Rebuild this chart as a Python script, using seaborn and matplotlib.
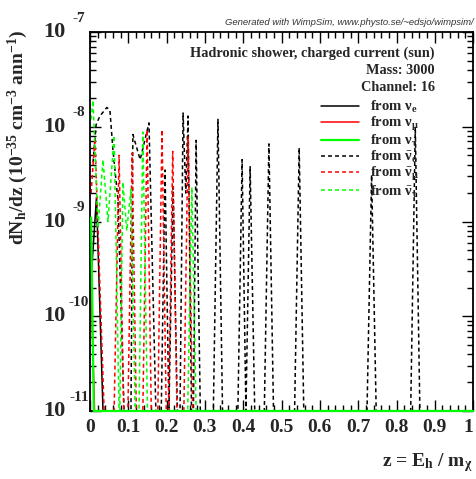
import numpy as np
import pandas as pd
import matplotlib
matplotlib.use("Agg")
import matplotlib.pyplot as plt
from matplotlib.ticker import MultipleLocator, LogLocator, NullFormatter, FixedLocator
import seaborn as sns

# ---------------- data ----------------
z_nu_e = [0.003, 0.017, 0.034, 1.0]
v_nu_e = [2.5e-10, 1.8e-9, 0, 0]

z_nu_mu = [0.003, 0.012, 1.0]
v_nu_mu = [2e-10, 0, 0]

z_nu_tau = [0.003, 0.010, 1.0]
v_nu_tau = [1.1e-9, 0, 0]

z_nubar_e = [0.008, 0.016, 0.026, 0.044, 0.052, 0.060, 0.073, 0.089,
             0.107, 0.112, 0.131, 0.154, 0.172,
             0.186, 0.196, 0.206, 0.217, 0.228,
             0.235, 0.243, 0.250, 0.256, 0.265, 0.270, 0.277, 0.288,
             0.322, 0.334, 0.346,
             0.386, 0.397, 0.407, 0.418, 0.430,
             0.455, 0.467, 0.479,
             0.534, 0.546, 0.558,
             0.723, 0.735, 0.747,
             0.837, 0.849, 0.861, 1.0]
v_nubar_e = [4.2e-9, 1.05e-8, 1.3e-8, 1.6e-8, 1.5e-8, 5.7e-9, 1.7e-9, 0,
             0, 8.3e-9, 4.5e-9, 1.1e-8, 0,
             0, 3.5e-9, 0, 2.3e-9, 0,
             0, 1.4e-8, 2e-9, 1.3e-8, 0, 0, 7.2e-9, 0,
             0, 1.2e-8, 0,
             0, 4.5e-9, 0, 3.8e-9, 0,
             0, 6.6e-9, 0,
             0, 6e-9, 0,
             0, 3.1e-9, 0,
             0, 1e-8, 0, 0]

z_nubar_mu = [0.003, 0.013, 0.037,
              0.063, 0.076, 0.088,
              0.099, 0.110, 0.121,
              0.138, 0.149, 0.160,
              0.177, 0.188, 0.199,
              0.205, 0.216, 0.227,
              0.245, 0.256, 0.268, 1.0]
v_nubar_mu = [2e-9, 7.6e-9, 0,
              0, 5e-9, 0,
              0, 5.3e-9, 0,
              0, 9.3e-9, 0,
              0, 9.3e-9, 0,
              0, 5.5e-9, 0,
              0, 7.8e-9, 0, 0]

z_nubar_tau = [0.003, 0.008, 0.021, 0.034, 0.047, 0.063, 0.076,
               0.078, 0.086, 0.096, 0.107, 0.118,
               0.128, 0.138, 0.150,
               0.255, 0.266, 0.277, 1.0]
v_nubar_tau = [1.2e-8, 1.9e-8, 8.5e-10, 4.5e-9, 1e-9, 8.1e-9, 0,
               0, 2.6e-9, 8e-10, 2.2e-9, 0,
               0, 8.8e-9, 0,
               0, 2.3e-9, 0, 0]

labels = [r"from $\mathrm{\nu}_{e}$", r"from $\mathrm{\nu}_{\mu}$", r"from $\mathrm{\nu}_{\tau}$",
          r"from $\bar{\mathrm{\nu}}_{e}$", r"from $\bar{\mathrm{\nu}}_{\mu}$", r"from $\bar{\mathrm{\nu}}_{\tau}$"]
x_ticks = [0, 0.1, 0.2, 0.3, 0.4, 0.5, 0.6, 0.7, 0.8, 0.9, 1]
x_tick_labels = ["0", "0.1", "0.2", "0.3", "0.4", "0.5", "0.6", "0.7", "0.8", "0.9", "1"]
y_exponents = [-7, -8, -9, -10, -11]

# ---------------- style ----------------
sns.set_style("ticks")
plt.rcParams["font.family"] = ["Liberation Serif", "DejaVu Serif"]
plt.rcParams["font.weight"] = "bold"
plt.rcParams["mathtext.fontset"] = "custom"
plt.rcParams["mathtext.rm"] = "Liberation Serif:bold"
plt.rcParams["mathtext.it"] = "Liberation Serif:bold"
plt.rcParams["mathtext.bf"] = "Liberation Serif:bold"
plt.rcParams["mathtext.sf"] = "Liberation Serif:bold"
plt.rcParams["mathtext.default"] = "rm"

fig = plt.figure(figsize=(4.76, 4.79), dpi=100)
ax = fig.add_axes([0.189, 0.142, 0.805, 0.791])

ymin, ymax = 1e-11, 1e-7
GREEN = "#00ff00"
RED = "#ff0000"
dash = (0, (2.6, 2.0))
series = [
    (z_nu_e, v_nu_e, "black", "-"),
    (z_nu_mu, v_nu_mu, RED, "-"),
    (z_nu_tau, v_nu_tau, GREEN, "-"),
    (z_nubar_e, v_nubar_e, "black", dash),
    (z_nubar_mu, v_nubar_mu, RED, dash),
    (z_nubar_tau, v_nubar_tau, GREEN, dash),
]
handles = []
for i, (zz, vv, col, ls) in enumerate(series):
    df = pd.DataFrame({"z": zz, "v": np.maximum(np.array(vv, dtype=float), ymin)})
    sns.lineplot(data=df, x="z", y="v", color=col, linestyle=ls, lw=1.1,
                 estimator=None, sort=False, ax=ax, legend=False)
    handles.append(ax.get_lines()[-1])

# green solid on top along the floor
handles[2].set_zorder(4)
handles[2].set_clip_on(False)
handles[2].set_linewidth(1.6)

ax.set_yscale("log")
ax.set_xlim(0, 1)
ax.set_ylim(ymin, ymax)
ax.set_xlabel("")
ax.set_ylabel("")

for s in ax.spines.values():
    s.set_linewidth(1.3)
    s.set_color("black")

ax.xaxis.set_major_locator(FixedLocator(x_ticks))
ax.xaxis.set_minor_locator(MultipleLocator(0.02))
ax.set_xticklabels(x_tick_labels, fontsize=14, fontweight="bold")
ax.get_xticklabels()[-1].set_horizontalalignment("right")
ax.yaxis.set_major_locator(LogLocator(base=10, numticks=10))
ax.yaxis.set_minor_locator(LogLocator(base=10, subs=np.arange(2, 10), numticks=50))
ax.yaxis.set_major_formatter(NullFormatter())
ax.yaxis.set_minor_formatter(NullFormatter())
ax.tick_params(which="both", direction="in", top=True, right=True, width=1.0, color="black")
ax.tick_params(which="major", length=8)
ax.tick_params(which="minor", length=4)
ax.tick_params(axis="x", which="major", pad=6)

# ROOT-style log labels: big "10" and raised exponent
trans = matplotlib.transforms.blended_transform_factory(ax.transAxes, ax.transData)
for e in y_exponents:
    ax.text(-0.065, 10.0 ** e, "10", transform=trans, ha="right", va="center",
            fontsize=16, fontweight="bold")
    ax.text(-0.029, 10.0 ** e * 1.40, str(e), transform=trans, ha="center", va="center",
            fontsize=11, fontweight="bold")

# axis titles
ax.text(-0.188, 1.005, r"dN$_{h}$/dz (10$^{-35}$ cm$^{-3}$ ann$^{-1}$)", transform=ax.transAxes,
        rotation=90, ha="center", va="top", fontsize=14, fontweight="bold")
fig.text(0.994, 0.035, r"z = E$_{h}$ / m$_{\chi}$", ha="right", va="center",
         fontsize=14, fontweight="bold")

# header text
fig.text(0.996, 0.944, "Generated with WimpSim, www.physto.se/~edsjo/wimpsim/",
         ha="right", va="bottom", fontsize=6.8, style="italic", fontweight="normal",
         family=["Liberation Sans", "DejaVu Sans"], color="#333333")
ax.text(0.90, 0.943, "Hadronic shower, charged current (sun)", transform=ax.transAxes,
        ha="right", va="center", fontsize=10.3, fontweight="bold")
ax.text(0.90, 0.898, "Mass: 3000", transform=ax.transAxes,
        ha="right", va="center", fontsize=10.3, fontweight="bold")
ax.text(0.90, 0.853, "Channel: 16", transform=ax.transAxes,
        ha="right", va="center", fontsize=10.3, fontweight="bold")

leg = ax.legend(handles, labels, loc="upper left", bbox_to_anchor=(0.603, 0.823),
                frameon=False, fontsize=10.6, handlelength=2.55, handletextpad=0.75,
                labelspacing=0.0, borderpad=0, borderaxespad=0)
for t in leg.get_texts():
    t.set_fontweight("bold")

fig.savefig("out.png", dpi=100)
